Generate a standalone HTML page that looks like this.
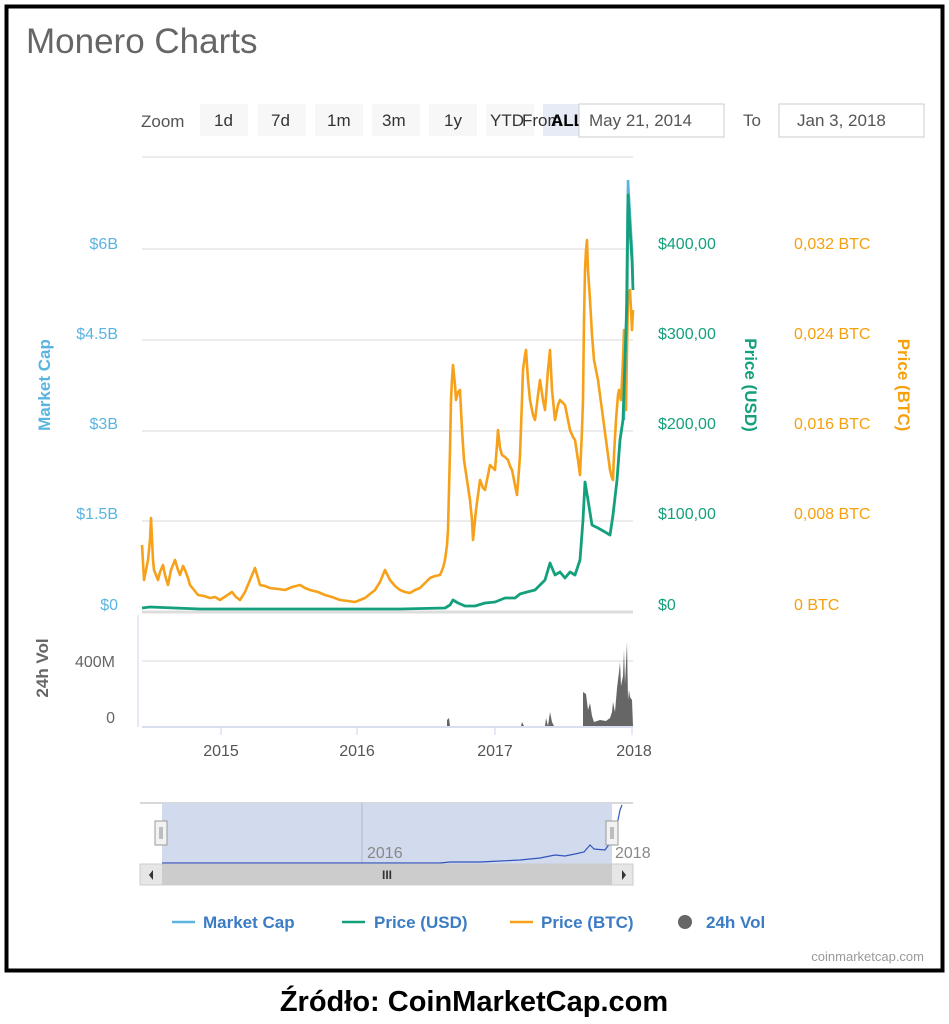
<!DOCTYPE html>
<html><head><meta charset="utf-8"><style>
html,body{margin:0;padding:0;background:#fff;width:949px;height:1024px;overflow:hidden}
svg{display:block;font-family:"Liberation Sans","DejaVu Sans",sans-serif}
</style></head><body>
<svg width="949" height="1024" viewBox="0 0 949 1024">
<rect x="0" y="0" width="949" height="1024" fill="#fff"/>
<rect x="6.5" y="6.5" width="936" height="964" fill="#fff" stroke="#000" stroke-width="4"/>
<text x="26" y="53" font-size="35" fill="#666">Monero Charts</text>
<text x="141" y="127" font-size="17" fill="#555">Zoom</text>
<g font-size="17" fill="#333">
<rect x="200" y="104" width="48" height="32" fill="#f7f7f7"/><text x="214" y="126">1d</text>
<rect x="258" y="104" width="48" height="32" fill="#f7f7f7"/><text x="271" y="126">7d</text>
<rect x="315" y="104" width="48" height="32" fill="#f7f7f7"/><text x="327" y="126">1m</text>
<rect x="372" y="104" width="48" height="32" fill="#f7f7f7"/><text x="382" y="126">3m</text>
<rect x="429" y="104" width="48" height="32" fill="#f7f7f7"/><text x="444" y="126">1y</text>
<rect x="486" y="104" width="48" height="32" fill="#f7f7f7"/><text x="490" y="126">YTD</text>
<rect x="543" y="104" width="48" height="32" fill="#e6ebf5"/><text x="522" y="126">From</text><text x="551" y="126" font-weight="bold" fill="#000">ALL</text>
</g>
<rect x="579" y="104" width="145" height="33" fill="#fff" stroke="#ccc"/>
<text x="589" y="126" font-size="17" fill="#555">May 21, 2014</text>
<text x="743" y="126" font-size="17" fill="#555">To</text>
<rect x="779" y="104" width="145" height="33" fill="#fff" stroke="#ccc"/>
<text x="797" y="126" font-size="17" fill="#555">Jan 3, 2018</text>
<g stroke="#e6e6e6" stroke-width="1.5">
<line x1="142" y1="157" x2="633" y2="157"/>
<line x1="142" y1="249" x2="633" y2="249"/>
<line x1="142" y1="340" x2="633" y2="340"/>
<line x1="142" y1="431" x2="633" y2="431"/>
<line x1="142" y1="521" x2="633" y2="521"/>
<line x1="142" y1="612" x2="633" y2="612" stroke="#ddd" stroke-width="3"/>
<line x1="142" y1="661" x2="633" y2="661"/>
</g>
<g font-size="16" fill="#5ab4e0" text-anchor="end">
<text x="118" y="249">$6B</text><text x="118" y="339">$4.5B</text><text x="118" y="429">$3B</text><text x="118" y="519">$1.5B</text><text x="118" y="610">$0</text>
</g>
<g font-size="16" fill="#14a07c">
<text x="658" y="249">$400,00</text><text x="658" y="339">$300,00</text><text x="658" y="429">$200,00</text><text x="658" y="519">$100,00</text><text x="658" y="610">$0</text>
</g>
<g font-size="16" fill="#f5a00c">
<text x="794" y="249">0,032 BTC</text><text x="794" y="339">0,024 BTC</text><text x="794" y="429">0,016 BTC</text><text x="794" y="519">0,008 BTC</text><text x="794" y="610">0 BTC</text>
</g>
<text transform="translate(50,385) rotate(-90)" font-size="17" font-weight="bold" fill="#5ab4e0" text-anchor="middle">Market Cap</text>
<text transform="translate(745,385) rotate(90)" font-size="17" font-weight="bold" fill="#14a07c" text-anchor="middle">Price (USD)</text>
<text transform="translate(898,385) rotate(90)" font-size="17" font-weight="bold" fill="#f5a00c" text-anchor="middle">Price (BTC)</text>
<text transform="translate(48,668) rotate(-90)" font-size="17" font-weight="bold" fill="#666" text-anchor="middle">24h Vol</text>
<text x="115" y="667" font-size="16" fill="#666" text-anchor="end">400M</text>
<text x="115" y="723" font-size="16" fill="#666" text-anchor="end">0</text>
<polyline fill="none" stroke="#f7a11a" stroke-width="2.6" stroke-linejoin="round" points="142,545 144,580 146,570 148,560 150,540 151,518 153,560 154,570 156,575 158,580 160,572 163,565 165,575 168,585 171,570 175,560 178,570 180,575 183,566 185,570 188,578 190,585 194,590 198,595 204,596 210,598 215,597 220,600 226,596 232,592 236,597 240,600 245,592 250,580 255,568 258,578 260,585 265,586 270,588 278,589 285,590 292,587 300,585 305,588 310,590 318,592 325,595 332,597 340,600 348,601 355,602 360,600 365,598 370,594 375,590 380,582 385,570 388,576 390,580 395,586 400,590 405,592 410,593 415,590 420,588 425,583 430,578 435,576 440,575 443,568 445,560 447,545 448,530 450,450 451,400 452,380 453,365 455,385 456,400 458,392 460,390 462,430 464,460 467,480 470,500 472,520 473,540 475,520 476,510 478,495 480,480 483,488 485,490 488,475 490,465 493,468 495,470 497,445 498,430 500,448 502,455 505,457 508,460 510,466 512,470 515,485 517,495 519,470 520,455 522,400 523,370 525,355 526,350 528,380 530,400 533,415 535,420 538,395 540,380 543,400 545,410 548,370 550,350 552,390 555,420 558,405 560,400 563,403 565,405 568,420 570,430 573,437 575,440 578,460 580,475 582,430 583,400 584,320 585,270 586,250 587,240 588,270 590,300 592,335 594,360 596,370 598,380 600,395 602,410 604,425 606,440 608,455 610,470 612,478 613,480 614,455 616,420 618,395 619,390 620,396 621,400 623,360 624,330 625,370 626,410 627,350 628,300 629,295 630,290 631,310 632,330 633,310"/>
<polyline fill="none" stroke="#5ab4e0" stroke-width="2.5" points="624,420 626,330 628,180 630,215 632,250 633,280"/>
<polyline fill="none" stroke="#14a07c" stroke-width="2.8" stroke-linejoin="round" points="142,608 150,607 200,609 300,609 400,609 445,608 450,605 453,600 458,603 465,606 475,606 485,603 495,602 505,598 515,598 520,594 527,592 535,590 545,580 550,563 555,575 560,572 565,578 570,572 575,575 580,560 583,520 585,482 588,500 592,525 598,528 605,532 610,535 613,515 617,480 620,440 623,420 625,360 627,300 628,195 630,230 632,260 633,290"/>
<line x1="138" y1="615" x2="138" y2="727" stroke="#ccd6eb"/>
<line x1="142" y1="727" x2="633" y2="727" stroke="#ccd6eb" stroke-width="1.5"/>
<path fill="#666" d="M447,726 L447,720 L449,718 L450,726 Z M521,726 L522,722 L524,726 Z M545,726 L546,718 L548,726 L550,712 L552,722 L554,726 Z M583,726 L583,692 L586,694 L588,710 L590,703 L592,716 L594,722 L600,720 L606,721 L610,718 L612,712 L613,702 L615,712 L617,688 L619,672 L620,662 L621,686 L623,676 L624,650 L625,684 L627,642 L628,700 L629,690 L630,697 L632,700 L633,726 Z"/>
<g stroke="#ccd6eb"><line x1="221" y1="727" x2="221" y2="735"/><line x1="357" y1="727" x2="357" y2="735"/><line x1="495" y1="727" x2="495" y2="735"/><line x1="632" y1="727" x2="632" y2="735"/></g>
<g font-size="16" fill="#555" text-anchor="middle">
<text x="221" y="756">2015</text><text x="357" y="756">2016</text><text x="495" y="756">2017</text><text x="634" y="756">2018</text>
</g>
<line x1="140" y1="803" x2="633" y2="803" stroke="#ccc" stroke-width="1.5"/>
<rect x="162" y="803" width="450" height="61" fill="#d2daee"/>
<line x1="362" y1="803" x2="362" y2="864" stroke="#b0b8cc"/>
<text x="367" y="858" font-size="16" fill="#888">2016</text>
<text x="615" y="858" font-size="16" fill="#888">2018</text>
<polyline fill="none" stroke="#3355bb" stroke-width="1.2" points="162,863 440,863 450,862 480,862 500,861 520,860 540,858 555,855 565,856 575,854 584,852 590,845 594,849 605,850 610,843 615,834 617,825 620,810 622,805"/>
<rect x="155" y="821" width="12" height="24" fill="#f2f2f2" stroke="#999"/>
<line x1="160" y1="827" x2="160" y2="839" stroke="#888"/><line x1="162" y1="827" x2="162" y2="839" stroke="#888"/>
<rect x="606" y="821" width="12" height="24" fill="#f2f2f2" stroke="#999"/>
<line x1="611" y1="827" x2="611" y2="839" stroke="#888"/><line x1="613" y1="827" x2="613" y2="839" stroke="#888"/>
<rect x="140" y="864" width="493" height="21" fill="#e6e6e6" stroke="#ccc"/>
<rect x="162" y="864" width="450" height="21" fill="#ccc"/>
<text x="387" y="879" font-size="12" fill="#333" text-anchor="middle" font-weight="bold">III</text>
<path d="M153,870 L153,880 L149,875 Z M622,870 L622,880 L626,875 Z" fill="#333"/>
<g font-size="17" font-weight="bold" fill="#3b7cc4">
<line x1="172" y1="922" x2="195" y2="922" stroke="#5ab4e0" stroke-width="2.5"/><text x="203" y="928">Market Cap</text>
<line x1="342" y1="922" x2="365" y2="922" stroke="#14a07c" stroke-width="2.5"/><text x="374" y="928">Price (USD)</text>
<line x1="510" y1="922" x2="533" y2="922" stroke="#f7a11a" stroke-width="2.5"/><text x="541" y="928">Price (BTC)</text>
<circle cx="685" cy="922" r="7" fill="#666"/><text x="706" y="928">24h Vol</text>
</g>
<text x="924" y="961" font-size="13" fill="#999" text-anchor="end">coinmarketcap.com</text>
<text x="474" y="1011" font-size="29" font-weight="bold" fill="#000" text-anchor="middle">Źródło: CoinMarketCap.com</text>
</svg>
</body></html>
